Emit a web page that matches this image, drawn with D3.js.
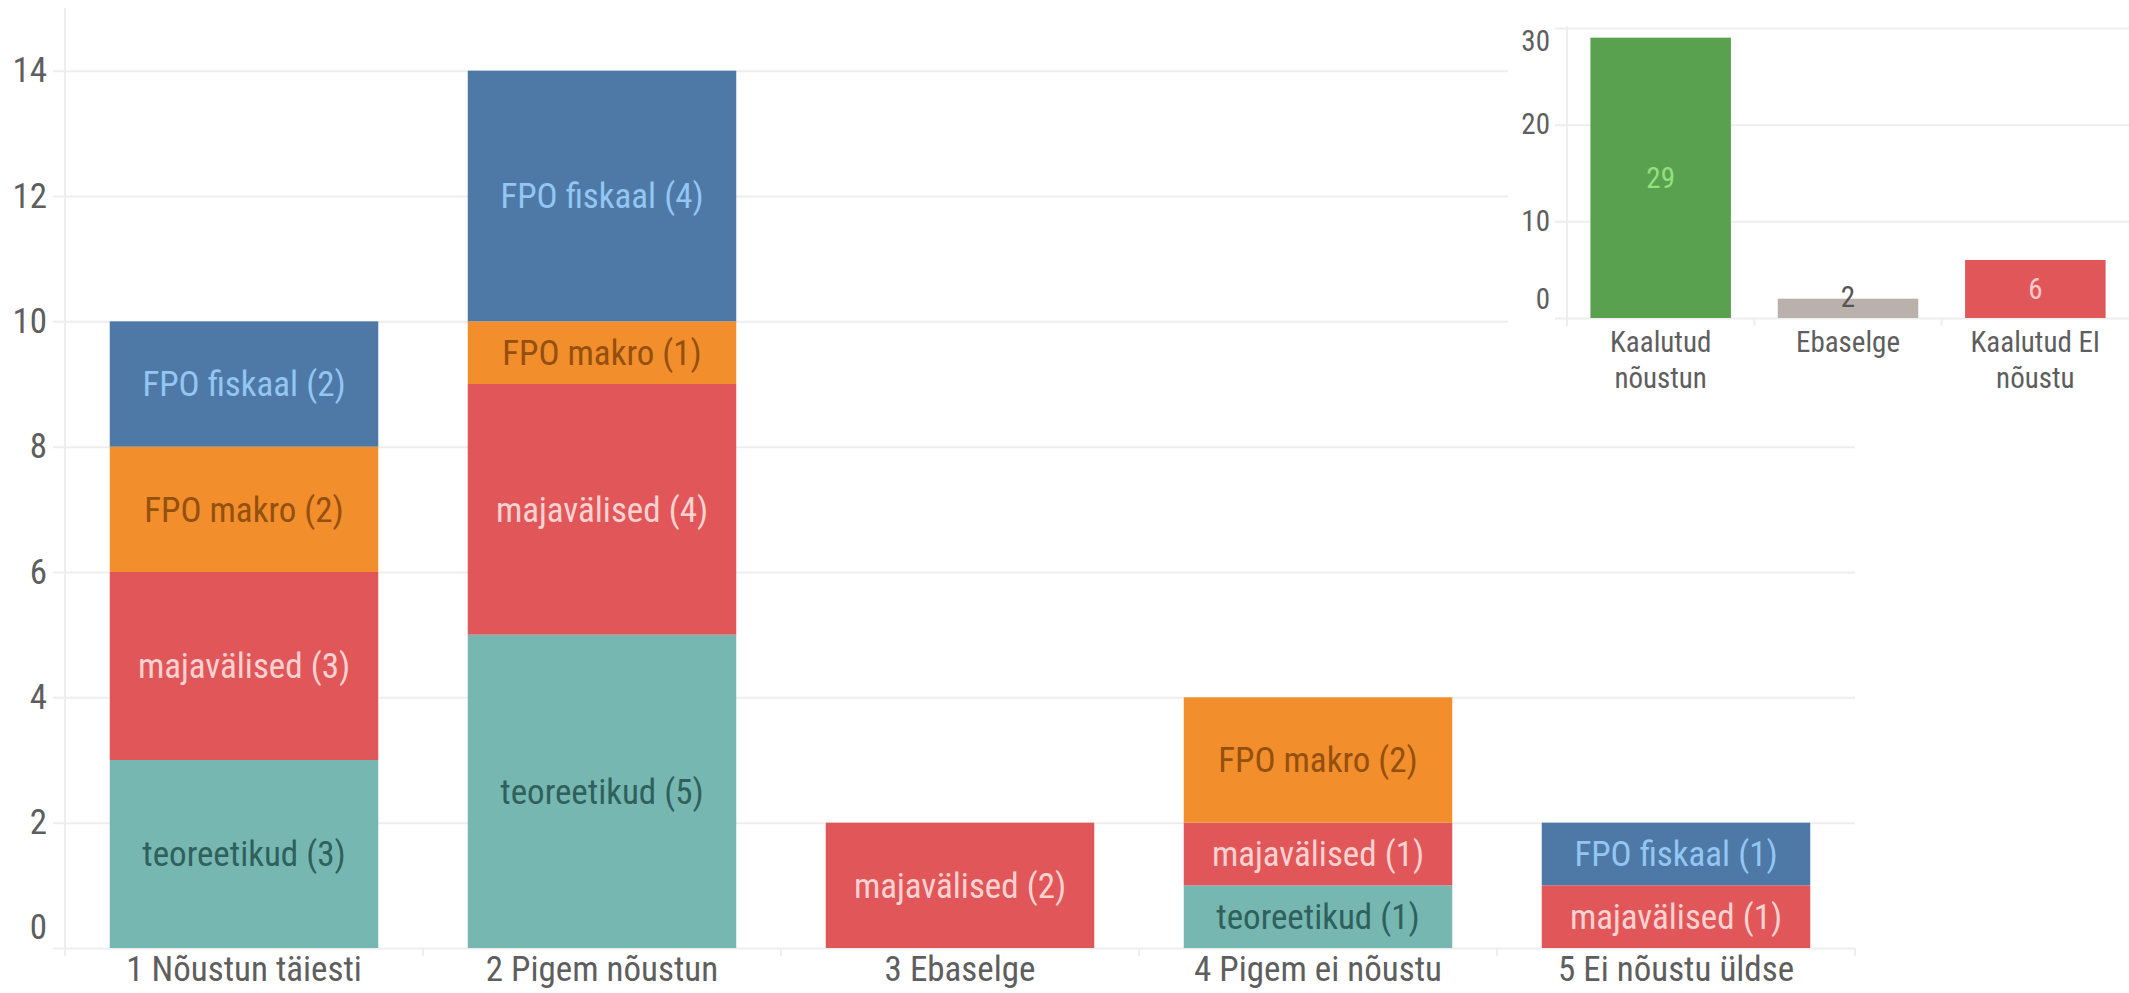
<!DOCTYPE html>
<html>
<head>
<meta charset="utf-8">
<script src="https://cdn.jsdelivr.net/npm/d3@7"></script>
<style>
    body { margin: 0; background: #fff; }
    svg text { font-family: 'Roboto Condensed', Roboto, sans-serif; }
</style>
</head>
<body>
<svg id="chart" width="2129" height="993"></svg>
<script>

// main stacked chart
var categories = ["1 Nõustun täiesti", "2 Pigem nõustun", "3 Ebaselge", "4 Pigem ei nõustu", "5 Ei nõustu üldse"];
var groups = ["teoreetikud", "majavälised", "FPO makro", "FPO fiskaal"];   // bottom to top
var teoreetikud = [3, 5, 0, 1, 0];
var majavalised = [3, 4, 2, 1, 1];
var fpoMakro    = [2, 1, 0, 2, 0];
var fpoFiskaal  = [2, 4, 0, 0, 1];
var yTicks = [0, 2, 4, 6, 8, 10, 12, 14];

// small summary chart
var summaryCategories = ["Kaalutud nõustun", "Ebaselge", "Kaalutud EI nõustu"];
var summaryLines = [["Kaalutud", "nõustun"], ["Ebaselge"], ["Kaalutud EI", "nõustu"]];
var summaryValues = [29, 2, 6];
var summaryTicks = [0, 10, 20, 30];

var fills = {"teoreetikud": "#76b7b2", "majavälised": "#e15759", "FPO makro": "#f28e2b", "FPO fiskaal": "#4e79a7"};
var inks  = {"teoreetikud": "#2f605b", "majavälised": "#ffd2d2", "FPO makro": "#93500f", "FPO fiskaal": "#93c6f2"};
var summaryFills = ["#59a14f", "#bab0ac", "#e15759"];
var summaryInks  = ["#93e07d", "#555555", "#ffcaca"];

var gridColor = "#eeeeee";
var labelColor = "#5e5e5e";

var svg = d3.select("#chart");

// ---------- main chart ----------
var left = 65, right = 1855, gridStart = 53;

var x = d3.scaleBand()
    .domain(categories)
    .range([left, right])
    .paddingInner(0.25)
    .paddingOuter(0.125);

var y = d3.scaleLinear()
    .domain([0, 15])
    .range([948, 8]);

var rows = categories.map(function (c, i) {
    return {category: c, "teoreetikud": teoreetikud[i], "majavälised": majavalised[i],
            "FPO makro": fpoMakro[i], "FPO fiskaal": fpoFiskaal[i]};
});
var stacked = d3.stack().keys(groups)(rows);

// grid + y labels
var yAxis = svg.append("g")
    .attr("transform", "translate(" + right + ",0)")
    .call(d3.axisLeft(y).tickValues(yTicks).tickSize(right - gridStart).tickPadding(6));
yAxis.select(".domain").remove();
yAxis.attr("font-family", null).attr("font-size", 35);
yAxis.selectAll("line").attr("stroke", gridColor).attr("stroke-width", 2);
yAxis.selectAll("text").attr("fill", labelColor);
yAxis.selectAll("text").filter(function (d) { return d === 0; }).attr("dy", "-0.28em");

// vertical axis line and band ticks
svg.append("line")
    .attr("x1", left).attr("x2", left)
    .attr("y1", y(15)).attr("y2", y(0) + 8)
    .attr("stroke", gridColor).attr("stroke-width", 2);

var bounds = categories.map(function (c) { return x(c) - (x.step() - x.bandwidth()) / 2; });
bounds.push(right);
svg.append("g").selectAll("line")
    .data(bounds.slice(1))
    .enter().append("line")
    .attr("x1", function (d) { return d; }).attr("x2", function (d) { return d; })
    .attr("y1", y(0)).attr("y2", y(0) + 8)
    .attr("stroke", gridColor).attr("stroke-width", 2);

var xAxis = svg.append("g")
    .attr("transform", "translate(0," + y(0) + ")")
    .call(d3.axisBottom(x).tickSize(0).tickPadding(8));
xAxis.select(".domain").remove();
xAxis.attr("font-family", null).attr("font-size", 35);
xAxis.selectAll("text").attr("fill", labelColor);

// inset background (hides main grid under it)
svg.append("rect")
    .attr("x", 1508).attr("y", 0)
    .attr("width", 2129 - 1508).attr("height", 400)
    .attr("fill", "#fff");

// stacked bars
var layers = svg.append("g").selectAll("g")
    .data(stacked)
    .enter().append("g")
    .attr("fill", function (d) { return fills[d.key]; });

layers.selectAll("rect")
    .data(function (d) { return d.filter(function (s) { return s[1] > s[0]; }); })
    .enter().append("rect")
    .attr("x", function (d) { return x(d.data.category); })
    .attr("width", x.bandwidth())
    .attr("y", function (d) { return y(d[1]); })
    .attr("height", function (d) { return y(d[0]) - y(d[1]); });

layers.each(function (layer) {
    d3.select(this).selectAll("text")
        .data(layer.filter(function (s) { return s[1] > s[0]; }))
        .enter().append("text")
        .attr("x", function (d) { return x(d.data.category) + x.bandwidth() / 2; })
        .attr("y", function (d) { return (y(d[0]) + y(d[1])) / 2; })
        .attr("dy", "0.35em")
        .attr("text-anchor", "middle")
        .attr("font-size", 35)
        .attr("fill", inks[layer.key])
        .text(function (d) { return layer.key + " (" + (d[1] - d[0]) + ")"; });
});

// ---------- summary chart ----------
var sLeft = 1567, sRight = 2129, sGridStart = 1555;

var xs = d3.scaleBand()
    .domain(summaryCategories)
    .range([sLeft, sRight])
    .paddingInner(0.25)
    .paddingOuter(0.125);

var ys = d3.scaleLinear()
    .domain([0, 30])
    .range([318, 28]);

var sAxis = svg.append("g")
    .attr("transform", "translate(" + sRight + ",0)")
    .call(d3.axisLeft(ys).tickValues(summaryTicks).tickSize(sRight - sGridStart).tickPadding(5));
sAxis.select(".domain").remove();
sAxis.attr("font-family", null).attr("font-size", 29);
sAxis.selectAll("line").attr("stroke", gridColor).attr("stroke-width", 2);
sAxis.selectAll("text").attr("fill", labelColor);
sAxis.selectAll("text").filter(function (d) { return d === 0; }).attr("dy", "-0.34em");
sAxis.selectAll("text").filter(function (d) { return d === 30; }).attr("dy", "0.78em");

svg.append("line")
    .attr("x1", sLeft).attr("x2", sLeft)
    .attr("y1", ys(30) - 2).attr("y2", ys(0) + 8)
    .attr("stroke", gridColor).attr("stroke-width", 2);

var sBounds = summaryCategories.map(function (c) { return xs(c) + xs.bandwidth() + (xs.step() - xs.bandwidth()) / 2; });
svg.append("g").selectAll("line")
    .data(sBounds.slice(0, -1))
    .enter().append("line")
    .attr("x1", function (d) { return d; }).attr("x2", function (d) { return d; })
    .attr("y1", ys(0)).attr("y2", ys(0) + 8)
    .attr("stroke", gridColor).attr("stroke-width", 2);

svg.append("g").selectAll("rect")
    .data(summaryValues)
    .enter().append("rect")
    .attr("x", function (d, i) { return xs(summaryCategories[i]); })
    .attr("width", xs.bandwidth())
    .attr("y", function (d) { return ys(d); })
    .attr("height", function (d) { return ys(0) - ys(d); })
    .attr("fill", function (d, i) { return summaryFills[i]; });

svg.append("g").selectAll("text")
    .data(summaryValues)
    .enter().append("text")
    .attr("x", function (d, i) { return xs(summaryCategories[i]) + xs.bandwidth() / 2; })
    .attr("y", function (d) { return Math.min((ys(0) + ys(d)) / 2, ys(0) - 21); })
    .attr("dy", "0.35em")
    .attr("text-anchor", "middle")
    .attr("font-size", 29)
    .attr("fill", function (d, i) { return summaryInks[i]; })
    .text(function (d) { return d; });

var sLabels = svg.append("g").selectAll("text")
    .data(summaryCategories)
    .enter().append("text")
    .attr("x", function (d) { return xs(d) + xs.bandwidth() / 2; })
    .attr("y", ys(0) + 34)
    .attr("text-anchor", "middle")
    .attr("font-size", 29)
    .attr("fill", labelColor);

sLabels.selectAll("tspan")
    .data(function (d, i) { return summaryLines[i]; })
    .enter().append("tspan")
    .attr("x", function () { return d3.select(this.parentNode).attr("x"); })
    .attr("dy", function (d, i) { return i === 0 ? 0 : 36; })
    .text(function (d) { return d; });

</script>
</body>
</html>
